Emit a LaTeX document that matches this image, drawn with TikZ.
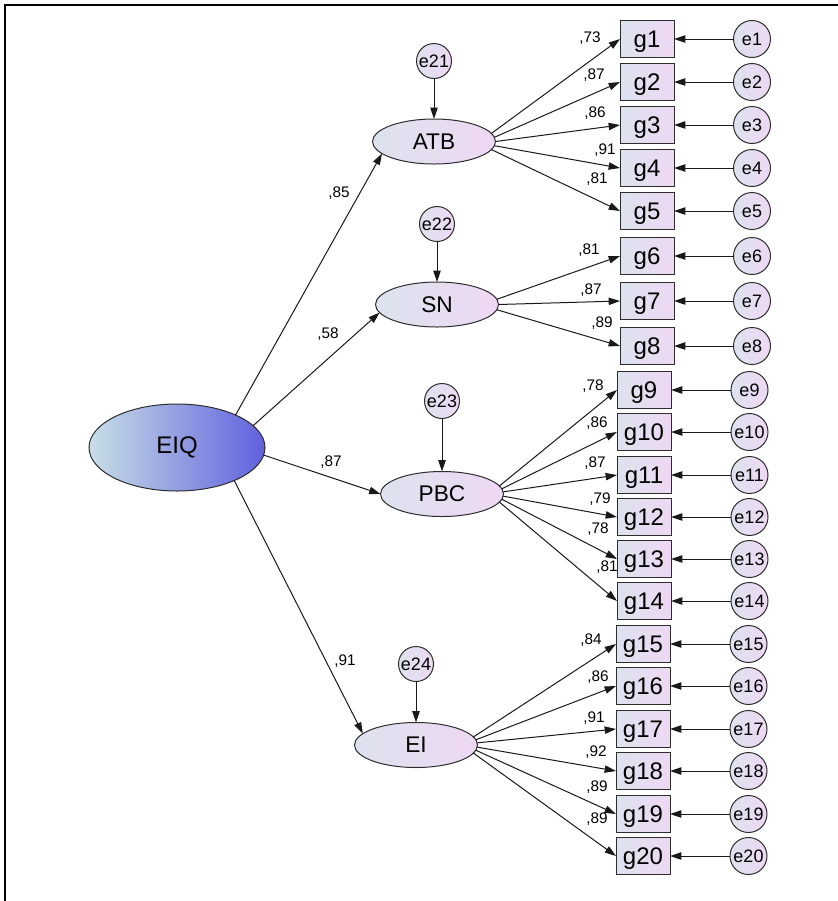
\documentclass[tikz,border=0pt]{standalone}
\usepackage{fontspec}
\setmainfont{Liberation Sans}
\usetikzlibrary{arrows.meta,shapes.geometric}

\definecolor{fillL}{RGB}{221,226,238}
\definecolor{fillR}{RGB}{238,216,243}
\definecolor{eiqL}{RGB}{200,222,230}
\definecolor{eiqR}{RGB}{96,96,222}
\definecolor{rim}{RGB}{45,45,45}

\begin{document}
\begin{tikzpicture}[x=0.75pt,y=-0.75pt,
  every node/.style={inner sep=0pt,outer sep=0pt},
  shaded/.style={draw=rim,line width=0.75pt,left color=fillL,right color=fillR},
  obs/.style={shaded,rectangle,minimum width=40.5pt,minimum height=27.75pt,
    text depth=0pt,font=\fontsize{18}{18}\selectfont},
  err/.style={shaded,circle,minimum size=27.75pt,font=\fontsize{13.5}{13.5}\selectfont},
  dist/.style={err,minimum size=26.25pt},
  lat/.style={shaded,ellipse,minimum width=92.25pt,minimum height=33.75pt,
    font=\fontsize{17}{17}\selectfont},
  path/.style={line width=0.75pt,draw=black!90,-{Triangle[length=8.5pt,width=5.5pt]}},
  coef/.style={font=\fontsize{11.5}{11.5}\selectfont},
]
\useasboundingbox (0,0) rectangle (838,901);

% frame (left and top rules)
\draw[line width=1.5pt] (5,901) -- (5,5) -- (838,5);

% second-order factor
\node[draw=rim,line width=0.75pt,ellipse,minimum width=132pt,minimum height=65.25pt,
  left color=eiqL,right color=eiqR,font=\fontsize{18}{18}\selectfont] (eiq) at (177,447.5) {EIQ};

% first-order factors and their disturbances
\node[lat] (atb) at (434,141.5) {ATB};
\node[lat] (sn)  at (437,304.5) {SN};
\node[lat] (pbc) at (442,494) {PBC};
\node[lat] (ei)  at (416,745) {EI};

\node[dist] (e21) at (434,61) {e21};
\node[dist] (e22) at (437,224) {e22};
\node[dist] (e23) at (442,401) {e23};
\node[dist] (e24) at (416,664) {e24};

\draw[path] (e21) -- (atb);
\draw[path] (e22) -- (sn);
\draw[path] (e23) -- (pbc);
\draw[path] (e24) -- (ei);

% structural paths
\draw[path] (eiq.29) -- (atb.193);
\draw[path] (eiq.16) -- (sn.188);
\draw[path] (eiq.-5) -- (pbc.180);
\draw[path] (eiq.-30) -- (ei.168);

\node[coef] (c21) at (339,193) {,85};
\node[coef] (c22) at (328,334) {,58};
\node[coef] (c23) at (331,462) {,87};
\node[coef] (c24) at (345,661) {,91};

% indicators with their error terms
\foreach \i/\y/\gx/\ex in {
  1/39/647/752, 2/82/647/752, 3/125/647/752, 4/168/647/752, 5/211/647/752,
  6/256/647/752, 7/301/647/752, 8/346/647/752,
  9/390/644/749.5, 10/432/644/749.5, 11/475/644/749.5, 12/517/644/749.5,
  13/559/644/749.5, 14/601/644/749.5,
  15/644/643/748.5, 16/686/643/748.5, 17/729/643/748.5, 18/771/643/748.5,
  19/814/643/748.5, 20/856/643/748.5}
{
  \node[obs] (g\i) at (\gx,\y) {g\i};
  \node[err] (e\i) at (\ex,\y) {e\i};
  \draw[path] (e\i) -- (g\i);
}

% factor loadings
\foreach \i/\lat/\ang/\val/\lx/\ly in {
  1/atb/8/73/590/38, 2/atb/4/87/594/75, 3/atb/0/86/595/113, 4/atb/-4/91/605/150, 5/atb/-8/81/597/179,
  6/sn/5/81/589/250, 7/sn/0/87/591/290, 8/sn/-5/89/602/323,
  9/pbc/8/78/593/386, 10/pbc/5/86/597/423, 11/pbc/2/87/595/463, 12/pbc/-2/79/600/499,
  13/pbc/-5/78/598/529, 14/pbc/-8/81/607/567,
  15/ei/8/84/591/640, 16/ei/5/86/598/677, 17/ei/2/91/594/718, 18/ei/-2/92/596/752,
  19/ei/-5/89/597/787, 20/ei/-8/89/597/819}
{
  \draw[path] (\lat.\ang) -- (g\i.west);
  \node[coef] (c\i) at (\lx,\ly) {,\val};
}
\end{tikzpicture}
\end{document}
